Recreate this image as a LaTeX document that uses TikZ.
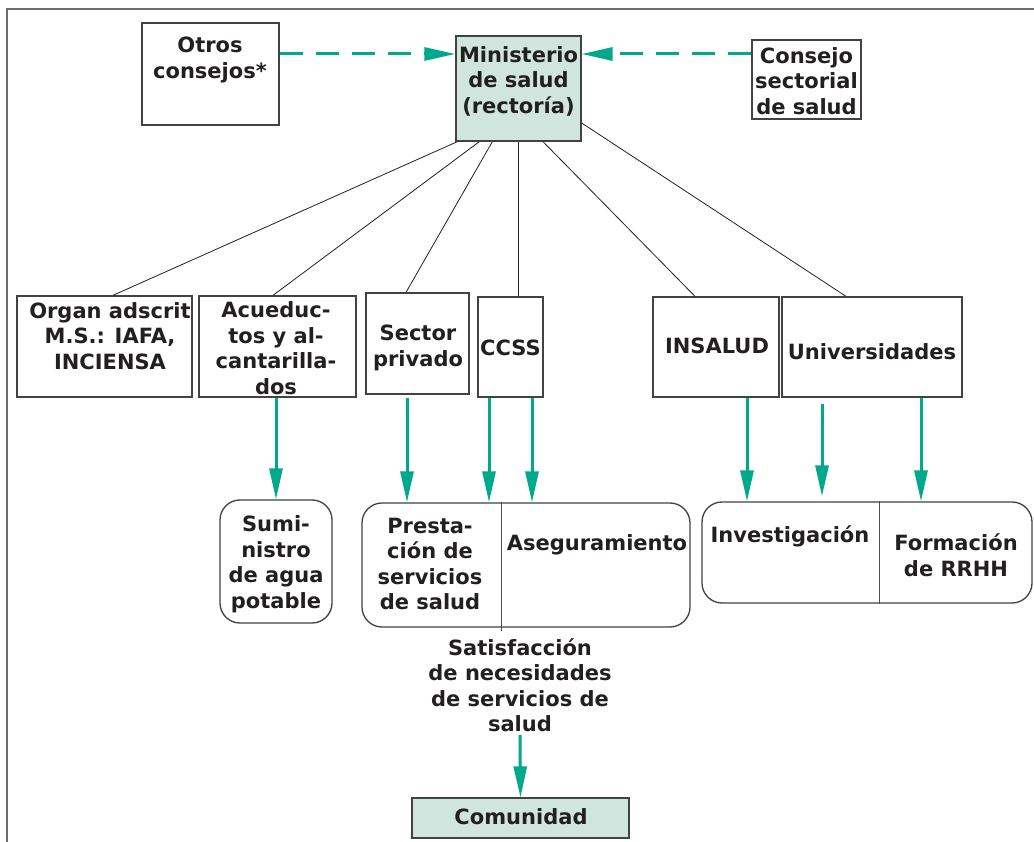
\documentclass[tikz,border=0pt]{standalone}
\usepackage{fontspec}
\setmainfont{DejaVu Sans}
\usetikzlibrary{arrows.meta}
\definecolor{teal1}{RGB}{0,168,140}
\definecolor{minfill}{RGB}{207,229,222}
\definecolor{ink}{RGB}{35,31,32}
\begin{document}
\begin{tikzpicture}[x=1pt,y=-1pt,
  box/.style={draw=ink!85, line width=1.3pt, inner sep=0pt},
  rbox/.style={box, rounded corners=20pt},
  txt/.style={text=ink, align=center, inner sep=0pt, font=\bfseries\fontsize{21}{25.5}\selectfont},
  thinline/.style={draw=ink, line width=0.8pt},
  garrow/.style={draw=teal1, line width=3pt, -{Triangle[length=31pt,width=13pt]}},
  darrow/.style={draw=teal1, line width=3pt, dash pattern=on 23pt off 13pt, -{Triangle[length=31pt,width=13pt]}}]
\useasboundingbox (0,0) rectangle (1034,842);
% frame
\draw[line width=1.6pt, ink!65] (7,842) -- (7,9) -- (1034,9);
% boxes
\node[box, minimum width=137pt, minimum height=102pt] (otros) at (210.5,74) {};
\node[box, fill=minfill, minimum width=125pt, minimum height=105pt] (min) at (518.5,88.5) {};
\node[box, minimum width=109pt, minimum height=79pt] (consejo) at (806.5,79.5) {};
\node[box, minimum width=175pt, minimum height=101pt] (organ) at (104.5,346.5) {};
\node[box, minimum width=157pt, minimum height=101pt] (acue) at (277.5,346.5) {};
\node[box, minimum width=103pt, minimum height=101pt] (sector) at (417.5,343.5) {};
\node[box, minimum width=65pt, minimum height=100pt] (ccss) at (510.5,347) {};
\node[box, minimum width=126pt, minimum height=100pt] (insalud) at (716,347) {};
\node[box, minimum width=180pt, minimum height=100pt] (univ) at (872,347) {};
\node[rbox, minimum width=112pt, minimum height=123pt] (sumi) at (276,561.5) {};
\node[rbox, minimum width=328pt, minimum height=124pt] (prest) at (526,565) {};
\node[rbox, minimum width=330pt, minimum height=101pt] (inv) at (867,552.5) {};
\node[box, fill=minfill, minimum width=217pt, minimum height=40pt] (comunidad) at (520.5,818) {};
% texts
\node[txt] (totros) at (210,60) {Otros\\consejos*};
\node[txt] (tmin) at (518.5,81) {Ministerio\\de salud\\(rectoría)};
\node[txt] (tconsejo) at (806.5,81) {Consejo\\sectorial\\de salud};
\node[txt] (torgan) at (110,336) {Organ adscrit\\M.S.: IAFA,\\INCIENSA};
\node[txt] (tacue) at (276,348) {Acueduc-\\tos y al-\\cantarilla-\\dos};
\node[txt] (tsector) at (418,348) {Sector\\privado};
\node[txt] (tccss) at (510.5,348) {CCSS};
\node[txt] (tinsalud) at (717,346) {INSALUD};
\node[txt] (tuniv) at (872,352) {Universidades};
\node[txt] (tsumi) at (276,564) {Sumi-\\nistro\\de agua\\potable};
\node[txt] (tprest) at (430,564) {Presta-\\ción de\\servicios\\de salud};
\node[txt] (taseg) at (597,545) {Aseguramiento};
\node[txt] (tinv) at (790,536) {Investigación};
\node[txt] (tform) at (956,555) {Formación\\de RRHH};
\node[txt] (satis) at (520,685) {Satisfacción\\de necesidades\\de servicios de\\salud};
\node[txt] (tcom) at (521,817) {Comunidad};
% dividers
\draw[thinline, ink!80] ([xshift=-25pt]prest.north) -- ([xshift=-25pt,yshift=-3pt]prest.south);
\draw[thinline, ink!80] ([xshift=12pt]inv.north) -- ([xshift=12pt]inv.south);
% thin connectors
\draw[thinline] ([xshift=2pt]min.south west) -- ([xshift=8.5pt]organ.north);
\draw[thinline] ([xshift=24pt]min.south west) -- ([xshift=-4.5pt]acue.north);
\draw[thinline] ([xshift=37pt]min.south west) -- ([xshift=-11.5pt]sector.north);
\draw[thinline] ([xshift=-0.5pt]min.south) -- ([xshift=7.5pt]ccss.north);
\draw[thinline] ([xshift=24.5pt]min.south) -- ([xshift=-21pt]insalud.north);
\draw[thinline] ([yshift=-34.5pt]min.east) -- ([xshift=-26pt]univ.north);
% dashed arrows
\draw[darrow] ([yshift=20pt]otros.east) -- ([yshift=34.5pt]min.west);
\draw[darrow] ([yshift=25.5pt]consejo.west) -- ([yshift=34.5pt]min.east);
% green arrows
\draw[garrow] ([xshift=-1.5pt]acue.south) -- (sumi.north);
\draw[garrow] ([xshift=-10.5pt,yshift=-3pt]sector.south) -- ([xshift=-119pt]prest.north);
\draw[garrow] ([xshift=-21.5pt]ccss.south) -- ([xshift=-37pt]prest.north);
\draw[garrow] ([xshift=21.5pt]ccss.south) -- ([xshift=6pt]prest.north);
\draw[garrow] ([xshift=31pt]insalud.south) -- ([xshift=-120pt]inv.north);
\draw[garrow] ([xshift=-50pt,yshift=-6pt]univ.south) -- ([xshift=-45pt,yshift=5pt]inv.north);
\draw[garrow] ([xshift=49pt]univ.south) -- ([xshift=54pt]inv.north);
\draw[garrow] ([yshift=-3pt]satis.south) -- (comunidad.north);
\end{tikzpicture}
\end{document}
